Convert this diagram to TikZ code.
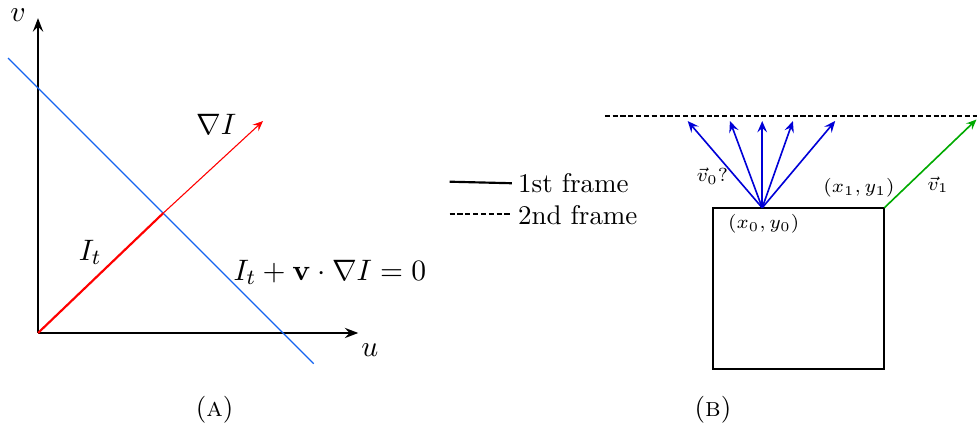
\documentclass[tikz,border=0pt]{standalone}
\usepackage{amsmath}
\usetikzlibrary{arrows.meta}
\definecolor{lineblue}{RGB}{20,100,240}
\definecolor{fanblue}{RGB}{0,0,215}
\definecolor{arrgreen}{RGB}{0,170,0}
\begin{document}
\begin{tikzpicture}[>={Stealth[length=5pt, width=3.8pt, inset=1.8pt]},
    axis/.style={->, thick, black},
    fan/.style={-{Stealth[length=4.2pt, width=3.6pt, inset=1.6pt]}, semithick, fanblue},
    thinarr/.style={-{Stealth[length=3.8pt, width=3.2pt, inset=1.4pt]}},
    framedash/.style={thick, dash pattern=on 1.9pt off 1pt},
    lbl/.style={inner sep=1pt},
    mlbl/.style={inner sep=1pt, font=\fontsize{11}{13}\selectfont}]
    % 0. Khung hinh
    \useasboundingbox (-0.495,-1.276) rectangle (12.227,4.336);

    % ===== (A) =====
    % 1. Truc toa do
    \coordinate (O) at (0,0);
    \coordinate (vtop) at (0,4.10);
    \coordinate (uend) at (4.17,0);
    \draw[axis] (O) -- (vtop);
    \draw[axis] (O) -- (uend);
    \node[mlbl] (vl) at (-0.26,4.14) {$v$};
    \node[mlbl] (ul) at (4.32,-0.22) {$u$};

    % 2. Duong thang I_t + v.grad I = 0
    \coordinate (b1) at (-0.39,3.58);
    \coordinate (b2) at (3.59,-0.40);
    \draw[lineblue, thin] (b1) -- (b2);

    % 3. Vecto gradient
    \coordinate (X) at (1.63,1.56);
    \coordinate (G) at (2.93,2.76);
    \draw[red, thick] (O) -- (X);
    \draw[thinarr, red, thin] (X) -- (G);
    \node[mlbl] (gl) at (2.32,2.71) {$\nabla I$};
    \node[mlbl] (itl) at (0.68,1.05) {$I_t$};
    \node[mlbl] (eq) at (3.80,0.79) {$I_t + \mathbf{v}\cdot\nabla I = 0$};
    \node (ca) at (2.30,-1.00) {(\textsc{a})};

    % ===== (B) =====
    % 4. Chu thich
    \coordinate (s1) at (5.36,1.97);
    \coordinate (s2) at (6.17,1.95);
    \coordinate (d1) at (5.36,1.55);
    \coordinate (d2) at (6.17,1.55);
    \draw[thick] (s1) -- (s2);
    \draw[framedash] (d1) -- (d2);
    \node[lbl, anchor=west] (f1) at (6.21,1.95) {1st frame};
    \node[lbl, anchor=west] (f2) at (6.21,1.54) {2nd frame};

    % 5. Khung thu hai (net dut) va khung thu nhat
    \coordinate (t1) at (7.38,2.83);
    \coordinate (t2) at (12.25,2.83);
    \draw[framedash] (t1) -- (t2);
    \draw[thick] (8.79,1.63) rectangle (11.02,-0.47);

    % 6. Cac vecto v_0
    \coordinate (P0) at (9.43,1.63);
    \foreach \xe [count=\i] in {8.46,9.01,9.43,9.83,10.38} {
        \coordinate (f\i) at (\xe,2.76);
        \draw[fan] (P0) -- (f\i);
    }
    \node[lbl] (v0l) at (8.78,2.04) {\scriptsize $\vec{v}_0?$};
    \node[lbl] (p0l) at (9.45,1.42) {\scriptsize $(x_0,y_0)$};

    % 7. Vecto v_1
    \coordinate (P1) at (11.02,1.63);
    \coordinate (Q1) at (12.22,2.78);
    \draw[thinarr, semithick, arrgreen] (P1) -- (Q1);
    \node[lbl] (p1l) at (10.69,1.89) {\scriptsize $(x_1,y_1)$};
    \node[lbl] (v1l) at (11.72,1.93) {\scriptsize $\vec{v}_1$};
    \node (cb) at (8.79,-1.00) {(\textsc{b})};
\end{tikzpicture}
\end{document}
